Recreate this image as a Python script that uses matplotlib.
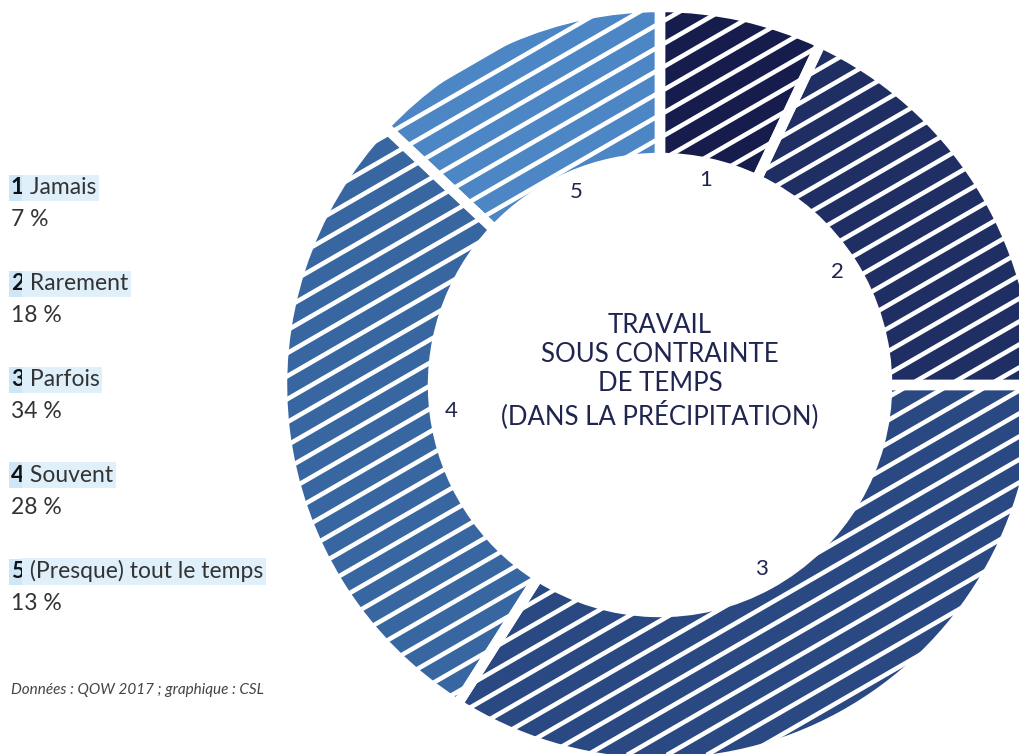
import numpy as np
import matplotlib
matplotlib.use("Agg")
import matplotlib.pyplot as plt
from matplotlib.collections import LineCollection

# answers to "travail sous contrainte de temps"
codes = ['1', '2', '3', '4', '5']
answers = ['Jamais', 'Rarement', 'Parfois', 'Souvent', '(Presque) tout le temps']
shares = [7, 18, 34, 28, 13]
colors = ['#161c4c', '#1f2e63', '#2a4882', '#3866a1', '#4c86c5']

W, H = 1020, 754
fig = plt.figure(figsize=(W / 100, H / 100), dpi=100)
ax = fig.add_axes([0, 0, 1, 1])

cx, cy = 660, H - 385
r_out, ring = 378, 151

wedges, texts = ax.pie(shares, labels=codes, colors=colors, startangle=90,
                       counterclock=False, center=(cx, cy), radius=r_out,
                       labeldistance=210 / r_out,
                       wedgeprops=dict(width=ring, linewidth=0),
                       textprops=dict(fontsize=16, color='#1f2550', family='Lato'))
for t in texts:
    t.set_ha('center')
    t.set_va('center')

# white diagonal stripes, clipped to each slice
slope = np.tan(np.radians(30))
xs = np.array([250, 1060])
segs = [np.column_stack([xs, c + slope * xs]) for c in np.arange(-800, 1300, 23)]
for w in wedges:
    lc = LineCollection(segs, colors='white', linewidths=3.3, zorder=3)
    lc.set_clip_path(w)
    ax.add_collection(lc)

# white gaps between slices
ax.pie(shares, startangle=90, counterclock=False, center=(cx, cy), radius=r_out,
       wedgeprops=dict(width=ring, fill=False, edgecolor='white', linewidth=7.5, zorder=4))

ax.text(cx, H - 371, "TRAVAIL\nSOUS CONTRAINTE\nDE TEMPS\n(DANS LA PRÉCIPITATION)",
        ha='center', va='center', fontsize=18.5, color='#1f2550', family='Lato',
        linespacing=1.2, zorder=5)

# legend on the left
label_y = [188, 284, 380, 475, 572]
for code, answer, share, y in zip(codes, answers, shares, label_y):
    t1 = ax.text(11, H - y, code, ha='left', va='center', fontsize=16.5,
                 fontweight='bold', color='#111111', family='Lato',
                 bbox=dict(boxstyle='square,pad=0.1', fc='#cfe6f6', ec='none'))
    ax.annotate(' ' + answer, xy=(1, 0), xycoords=t1, ha='left', va='bottom',
                fontsize=16.5, color='#333333', family='Lato',
                bbox=dict(boxstyle='square,pad=0.1', fc='#dff0fb', ec='none'))
    ax.text(11, H - y - 32, f"{share} %", ha='left', va='center', fontsize=16.5,
            color='#333333', family='Lato')

ax.text(11, H - 690, "Données : QOW 2017 ; graphique : CSL", ha='left', va='center',
        fontsize=11, style='italic', color='#444444', family='Lato')

ax.set_xlim(0, W)
ax.set_ylim(0, H)
ax.axis('off')

fig.savefig('out.png', dpi=100, facecolor='white')
